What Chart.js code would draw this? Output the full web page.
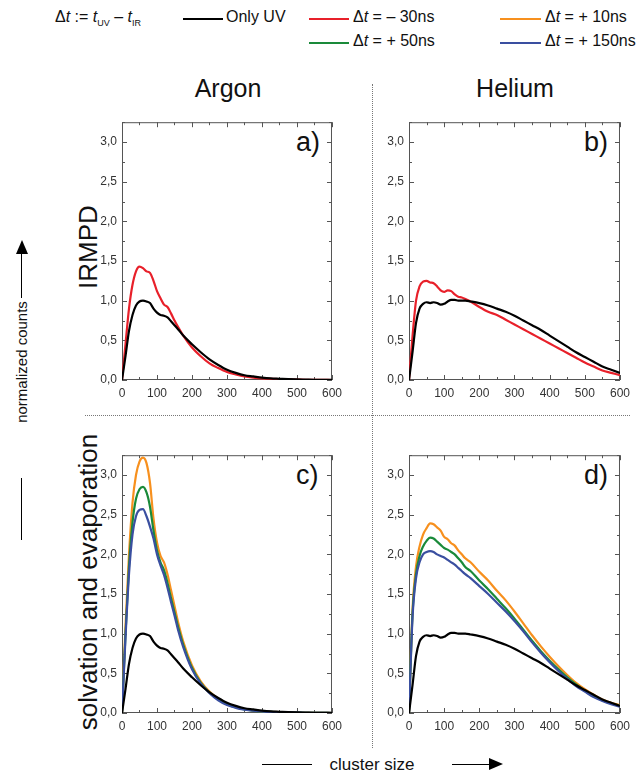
<!DOCTYPE html>
<html>
<head>
<meta charset="utf-8">
<script src="https://cdn.jsdelivr.net/npm/chart.js@4.4.1/dist/chart.umd.min.js"></script>
<style>
  body { margin: 0; background: #fff; font-family: "Liberation Sans", Arial, sans-serif; color: #111; }
  #page { position: relative; width: 641px; height: 775px; overflow: hidden; }
  .abs { position: absolute; white-space: nowrap; }
  canvas { position: absolute; }
  .rot { transform: translate(-50%, -50%) rotate(-90deg); }
  .sw { position: absolute; height: 0; border-top: 2.5px solid #000; }
  .vdot { position: absolute; width: 0; border-left: 1px dotted #777; }
  .hdot { position: absolute; height: 0; border-top: 1px dotted #777; }
  .lbl { font-size: 16px; }
  sub { font-size: 9px; }
</style>
</head>
<body>
<div id="page">
  <!-- legend -->
  <div class="abs lbl" style="left:55px; top:8px;">&Delta;<i>t</i> := <i>t</i><sub>UV</sub> &ndash; <i>t</i><sub>IR</sub></div>
  <div class="sw" style="left:183px; top:18px; width:40px; border-color:#000;"></div>
  <div class="abs lbl" style="left:226px; top:8px;">Only UV</div>
  <div class="sw" style="left:309px; top:18px; width:40px; border-color:#e8202a;"></div>
  <div class="abs lbl" style="left:353px; top:8px;">&Delta;<i>t</i> = &ndash; 30ns</div>
  <div class="sw" style="left:500px; top:18px; width:41px; border-color:#f7901e;"></div>
  <div class="abs lbl" style="left:545px; top:8px;">&Delta;<i>t</i> = + 10ns</div>
  <div class="sw" style="left:309px; top:42px; width:40px; border-color:#1a8a3a;"></div>
  <div class="abs lbl" style="left:353px; top:32px;">&Delta;<i>t</i> = + 50ns</div>
  <div class="sw" style="left:500px; top:42px; width:41px; border-color:#3a4fa0;"></div>
  <div class="abs lbl" style="left:545px; top:32px;">&Delta;<i>t</i> = + 150ns</div>

  <!-- column titles -->
  <div class="abs" style="left:228px; top:88px; font-size:25px; transform:translate(-50%,-50%);">Argon</div>
  <div class="abs" style="left:515px; top:88px; font-size:25px; transform:translate(-50%,-50%);">Helium</div>

  <!-- separators -->
  <div class="vdot" style="left:372px; top:84px; height:664px;"></div>
  <div class="hdot" style="left:85px; top:415px; width:545px;"></div>

  <!-- row labels -->
  <div class="abs rot" style="left:88px; top:247px; font-size:26px;">IRMPD</div>
  <div class="abs rot" style="left:88px; top:582px; font-size:26px;">solvation and evaporation</div>

  <!-- y axis title with arrow -->
  <div class="abs rot" style="left:21px; top:362px; font-size:15px;">normalized counts</div>
  <div class="vdot" style="left:21px; top:478px; height:62px; border-left:1.5px solid #000;"></div>
  <div class="vdot" style="left:21px; top:252px; height:46px; border-left:1.5px solid #000;"></div>
  <div class="abs" style="left:16px; top:240px; width:0; height:0; border-left:6px solid transparent; border-right:6px solid transparent; border-bottom:14px solid #000;"></div>

  <!-- x axis title with arrow -->
  <div class="abs" style="left:372px; top:765px; font-size:17px; transform:translate(-50%,-50%);">cluster size</div>
  <div class="hdot" style="left:262px; top:764px; width:50px; border-top:1.5px solid #000;"></div>
  <div class="hdot" style="left:452px; top:764px; width:38px; border-top:1.5px solid #000;"></div>
  <div class="abs" style="left:489px; top:758px; width:0; height:0; border-top:6px solid transparent; border-bottom:6px solid transparent; border-left:14px solid #000;"></div>

  <!-- panel letters -->
  <div class="abs" style="left:296px; top:127px; font-size:27px;">a)</div>
  <div class="abs" style="left:584px; top:127px; font-size:27px;">b)</div>
  <div class="abs" style="left:296px; top:460px; font-size:27px;">c)</div>
  <div class="abs" style="left:584px; top:460px; font-size:27px;">d)</div>

  <canvas id="pa"></canvas>
  <canvas id="pb"></canvas>
  <canvas id="pc"></canvas>
  <canvas id="pd"></canvas>
</div>

<script>
// cluster size grid (x values)
const sizes = [0,10,20,30,40,50,60,70,80,90,100,110,120,130,140,150,160,175,200,225,250,275,300,325,350,375,400,425,450,475,500,525,550,575,600];
const xTicks = [0,100,200,300,400,500,600];
const xMinor = [50,150,250,350,450,550];
const yTicks = [0,0.5,1,1.5,2,2.5,3];
const yMinor = [0.25,0.75,1.25,1.75,2.25,2.75,3.25];

// Argon
const arOnlyUV = [0,0.3,0.62,0.82,0.94,0.99,1.0,0.99,0.97,0.9,0.85,0.82,0.81,0.79,0.74,0.69,0.64,0.56,0.45,0.35,0.26,0.19,0.13,0.09,0.06,0.045,0.03,0.02,0.015,0.01,0.007,0.005,0.003,0.002,0.001];
const arM30 = [0,0.45,0.9,1.2,1.37,1.43,1.41,1.37,1.35,1.25,1.12,1.03,0.95,0.92,0.84,0.75,0.67,0.56,0.41,0.3,0.21,0.15,0.1,0.07,0.045,0.03,0.02,0.014,0.01,0.007,0.005,0.003,0.002,0.001,0];
const arP10 = [0,1.1,2.0,2.65,3.0,3.17,3.22,3.15,2.9,2.45,2.15,1.98,1.9,1.75,1.55,1.35,1.15,0.9,0.6,0.4,0.27,0.18,0.12,0.075,0.05,0.032,0.02,0.014,0.01,0.007,0.005,0.003,0.002,0.001,0];
const arP50 = [0,1.0,1.85,2.4,2.7,2.82,2.85,2.78,2.6,2.3,2.05,1.9,1.8,1.64,1.45,1.27,1.09,0.86,0.57,0.38,0.26,0.17,0.11,0.07,0.045,0.03,0.02,0.013,0.01,0.007,0.005,0.003,0.002,0.001,0];
const arP150 = [0,0.95,1.75,2.25,2.48,2.56,2.57,2.48,2.35,2.2,2.0,1.86,1.74,1.58,1.4,1.23,1.05,0.83,0.55,0.37,0.25,0.16,0.1,0.065,0.042,0.028,0.02,0.013,0.01,0.007,0.005,0.003,0.002,0.001,0];

// Helium
const heOnlyUV = [0,0.35,0.72,0.9,0.96,0.98,0.97,0.98,0.97,0.95,0.96,0.99,1.01,1.01,1.0,1.0,1.0,0.99,0.97,0.94,0.9,0.86,0.81,0.75,0.69,0.63,0.56,0.49,0.42,0.35,0.29,0.23,0.17,0.13,0.09];
const heM30 = [0,0.55,1.0,1.18,1.24,1.25,1.23,1.22,1.18,1.13,1.11,1.13,1.12,1.08,1.05,1.04,1.02,0.99,0.92,0.86,0.82,0.76,0.7,0.64,0.58,0.52,0.46,0.4,0.34,0.28,0.22,0.17,0.12,0.09,0.06];
const heP10 = [0,1.3,1.85,2.1,2.25,2.33,2.39,2.38,2.34,2.3,2.22,2.19,2.14,2.11,2.05,2.0,1.95,1.9,1.78,1.67,1.54,1.42,1.28,1.13,0.98,0.84,0.71,0.59,0.48,0.38,0.3,0.23,0.17,0.13,0.1];
const heP50 = [0,1.25,1.75,1.98,2.1,2.17,2.21,2.2,2.16,2.12,2.08,2.06,2.03,2.0,1.95,1.9,1.84,1.79,1.67,1.56,1.44,1.32,1.19,1.05,0.91,0.78,0.66,0.55,0.45,0.36,0.28,0.21,0.16,0.12,0.09];
const heP150 = [0,1.2,1.7,1.9,2.0,2.03,2.04,2.03,2.0,1.98,1.96,1.93,1.9,1.87,1.83,1.79,1.75,1.7,1.6,1.5,1.39,1.28,1.16,1.03,0.89,0.76,0.64,0.53,0.43,0.34,0.27,0.2,0.15,0.11,0.08];

const colors = { uv: '#000000', m30: '#e8202a', p10: '#f7901e', p50: '#1a8a3a', p150: '#3a4fa0' };

// box with inward ticks on all four sides
const framePlugin = {
  id: 'frame',
  beforeDatasetsDraw(chart) {
    const { ctx, chartArea: a, scales: { x, y } } = chart;
    ctx.save();
    ctx.strokeStyle = '#555';
    ctx.lineWidth = 1;
    ctx.strokeRect(a.left + 0.5, a.top + 0.5, a.right - a.left - 1, a.bottom - a.top - 1);
    ctx.beginPath();
    const tx = (v, len) => {
      const p = Math.round(x.getPixelForValue(v)) + 0.5;
      ctx.moveTo(p, a.bottom); ctx.lineTo(p, a.bottom - len);
      ctx.moveTo(p, a.top); ctx.lineTo(p, a.top + len);
    };
    const ty = (v, len) => {
      const p = Math.round(y.getPixelForValue(v)) + 0.5;
      ctx.moveTo(a.left, p); ctx.lineTo(a.left + len, p);
      ctx.moveTo(a.right, p); ctx.lineTo(a.right - len, p);
    };
    xTicks.forEach(v => tx(v, 5));
    xMinor.forEach(v => tx(v, 3));
    yTicks.forEach(v => ty(v, 5));
    yMinor.forEach(v => ty(v, 3));
    ctx.stroke();
    ctx.restore();
  }
};

function line(data, color) {
  return { data: data, borderColor: color, borderWidth: 2.2, pointRadius: 0, fill: false, tension: 0.4, cubicInterpolationMode: 'monotone' };
}

function makePanel(id, left, top, width, series) {
  const cv = document.getElementById(id);
  const height = 4 + 266 + 24;
  cv.style.left = left + 'px';
  cv.style.top = top + 'px';
  cv.style.width = width + 'px';
  cv.style.height = height + 'px';
  cv.width = width; cv.height = height;
  return new Chart(cv.getContext('2d'), {
    type: 'line',
    data: { labels: sizes, datasets: series },
    plugins: [framePlugin],
    options: {
      responsive: false,
      animation: false,
      devicePixelRatio: 1,
      layout: { padding: { left: 0, right: 14, top: 4, bottom: 0 } },
      plugins: { legend: { display: false }, tooltip: { enabled: false } },
      scales: {
        x: {
          type: 'linear', min: 0, max: 600,
          grid: { display: false, drawTicks: false },
          border: { display: false },
          afterBuildTicks: s => { s.ticks = xTicks.map(v => ({ value: v })); },
          afterFit: s => { s.height = 24; },
          ticks: { padding: 6, color: '#333', font: { family: 'Liberation Sans', size: 12 }, maxRotation: 0 }
        },
        y: {
          min: 0, max: 3.25,
          grid: { display: false, drawTicks: false },
          border: { display: false },
          afterBuildTicks: s => { s.ticks = yTicks.map(v => ({ value: v })); },
          afterFit: s => { s.width = 40; },
          ticks: { padding: 5, color: '#333', font: { family: 'Liberation Sans', size: 12 },
                   callback: v => v.toFixed(1).replace('.', ',') }
        }
      }
    }
  });
}

const sx = ds => ds.map(d => ({ ...d, data: d.data.map((v, i) => ({ x: sizes[i], y: v })) }));

makePanel('pa', 82, 110, 266, sx([line(arOnlyUV, colors.uv), line(arM30, colors.m30)]));
makePanel('pb', 369, 110, 267, sx([line(heOnlyUV, colors.uv), line(heM30, colors.m30)]));
makePanel('pc', 82, 443, 266, sx([line(arOnlyUV, colors.uv), line(arP150, colors.p150), line(arP50, colors.p50), line(arP10, colors.p10)]));
makePanel('pd', 369, 443, 267, sx([line(heOnlyUV, colors.uv), line(heP150, colors.p150), line(heP50, colors.p50), line(heP10, colors.p10)]));
</script>
</body>
</html>
